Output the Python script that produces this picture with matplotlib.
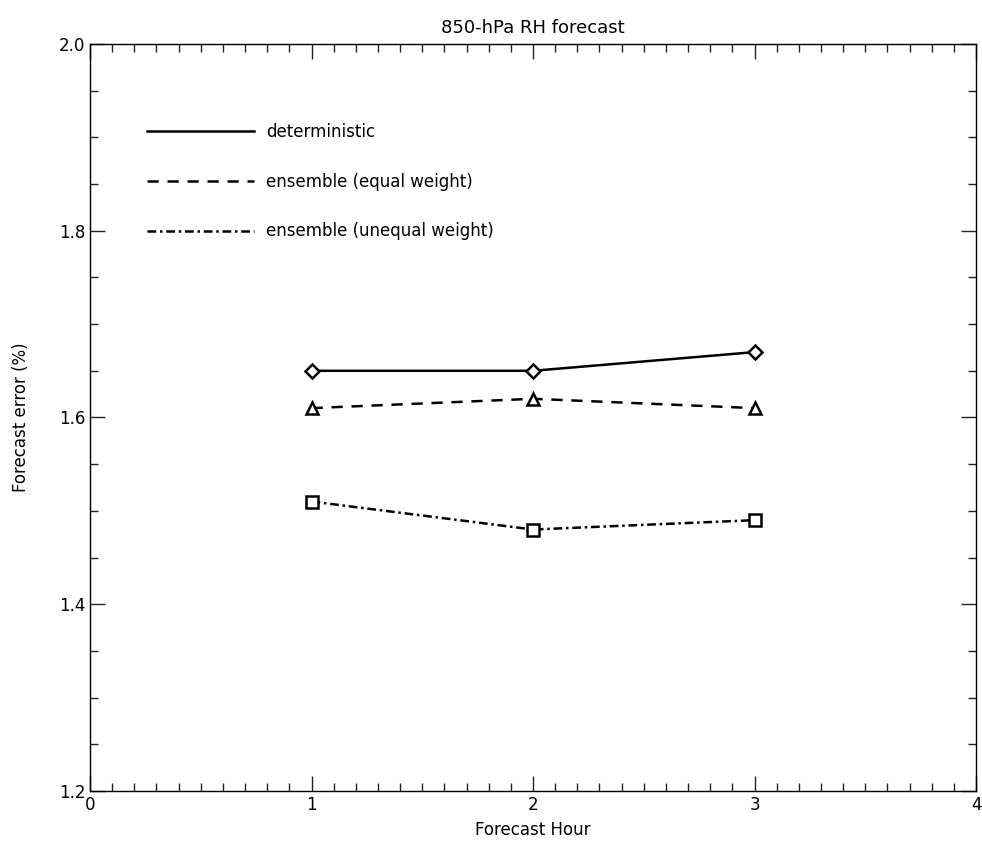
import numpy as np
import matplotlib.pyplot as plt
from matplotlib.ticker import MultipleLocator

hours = [1, 2, 3]
deterministic = [1.65, 1.65, 1.67]
ens_equal = [1.61, 1.62, 1.61]
ens_unequal = [1.51, 1.48, 1.49]

labels = ['deterministic', 'ensemble (equal weight)', 'ensemble (unequal weight)']

fig = plt.figure(figsize=(9.82, 8.41), dpi=100)
ax = fig.add_axes([0.0917, 0.0595, 0.9022, 0.8882])

lw = 1.8
ax.plot(hours, deterministic, color='black', lw=lw, ls='-', label=labels[0])
ax.plot(hours, ens_equal, color='black', lw=lw, dashes=(4.5, 3.5), label=labels[1])
ax.plot(hours, ens_unequal, color='black', lw=lw, dashes=(3.5, 1.5, 1, 1.5), label=labels[2])

ax.plot(hours, deterministic, 'D', ms=7, mfc='white', mec='black', mew=1.8, ls='none')
ax.plot(hours, ens_equal, '^', ms=9, mfc='white', mec='black', mew=1.8, ls='none')
ax.plot(hours, ens_unequal, 's', ms=9, mfc='white', mec='black', mew=1.8, ls='none')

ax.set_xlim(0, 4)
ax.set_ylim(1.2, 2.0)
ax.xaxis.set_major_locator(MultipleLocator(1))
ax.xaxis.set_minor_locator(MultipleLocator(0.1))
ax.yaxis.set_major_locator(MultipleLocator(0.2))
ax.yaxis.set_minor_locator(MultipleLocator(0.05))
ax.yaxis.set_major_formatter(plt.FuncFormatter(lambda v, p: f'{v:.1f}'))
ax.tick_params(which='both', direction='in', top=True, right=True, labelsize=12, color='#222222')
ax.tick_params(which='major', length=11, width=1)
ax.tick_params(which='minor', length=6, width=1)
for s in ax.spines.values():
    s.set_linewidth(1)

ax.set_title('850-hPa RH forecast', fontsize=13, pad=8)
ax.set_xlabel('Forecast Hour', fontsize=12, labelpad=5)
ax.set_ylabel('Forecast error (%)', fontsize=12, labelpad=21)

ax.legend(loc='upper left', bbox_to_anchor=(0.0643, 0.894), frameon=False, fontsize=12,
          handlelength=6.4, handletextpad=0.75, labelspacing=1.9,
          borderpad=0, borderaxespad=0)

fig.savefig('out.png', dpi=100)
